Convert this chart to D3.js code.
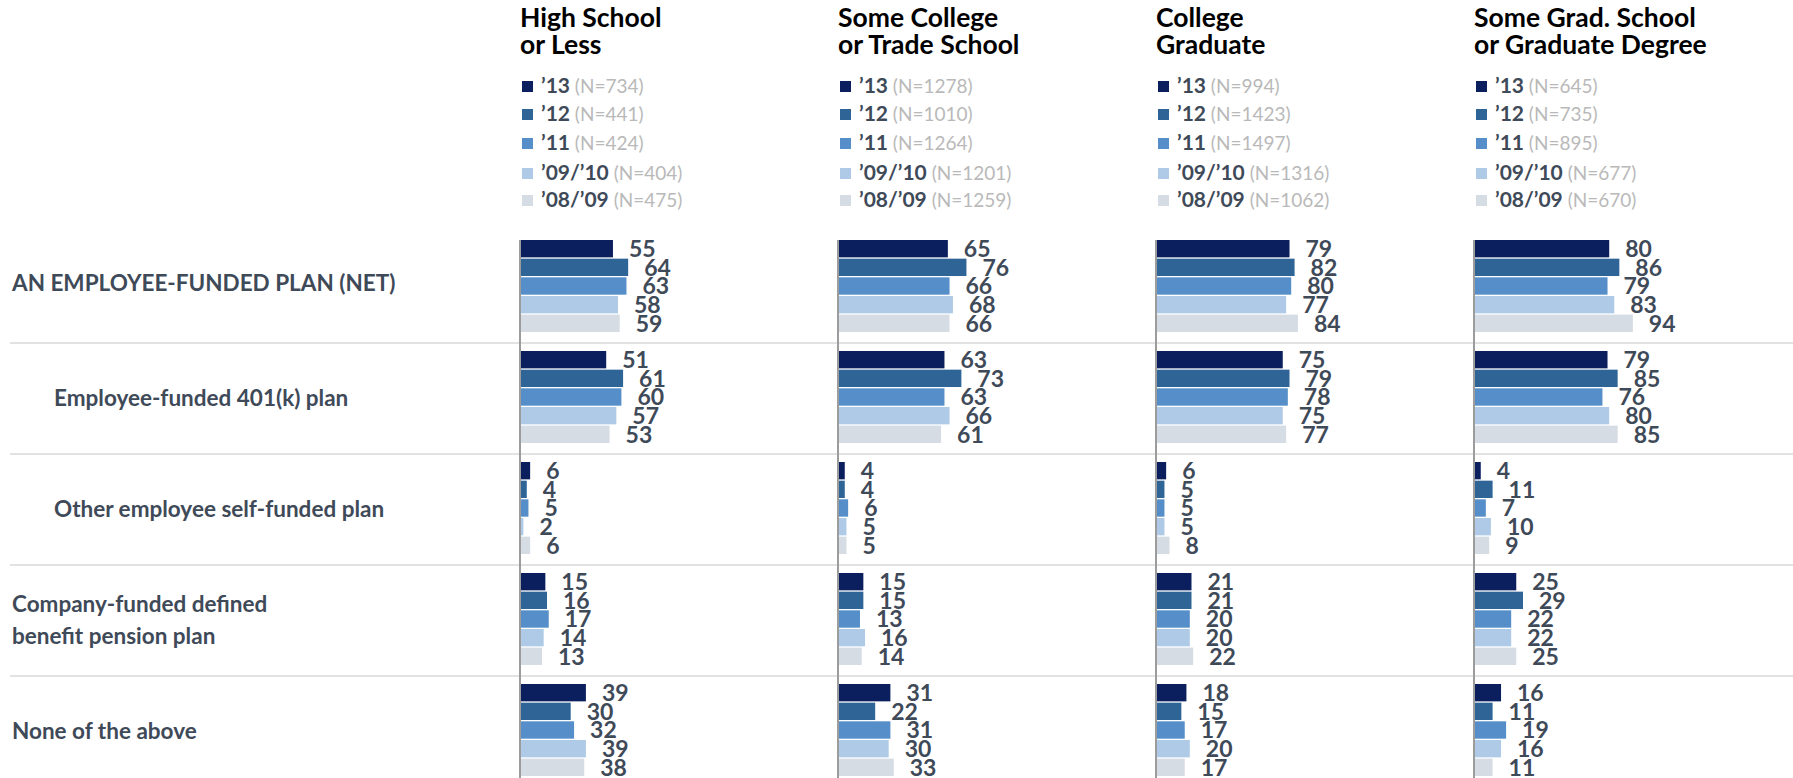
<!DOCTYPE html>
<html>
<head>
<meta charset="utf-8">
<script src="https://cdn.jsdelivr.net/npm/d3@7"></script>
<style>
  html, body { margin: 0; padding: 0; background: #fff; }
  svg { display: block; font-family: Lato, "Open Sans", sans-serif; }
</style>
</head>
<body>
<div class="container"></div>
<script>
// Panel headers (education level), one entry per panel.
const panelTitles = [
  ['High School', 'or Less'],
  ['Some College', 'or Trade School'],
  ['College', 'Graduate'],
  ['Some Grad. School', 'or Graduate Degree']
];

// Survey waves.
const series = ['’13', '’12', '’11', '’09/’10', '’08/’09'];

// Sample sizes per panel, in series order.
const sampleSizes = [
  [734, 441, 424, 404, 475],
  [1278, 1010, 1264, 1201, 1259],
  [994, 1423, 1497, 1316, 1062],
  [645, 735, 895, 677, 670]
];

// Row categories (lines of each label) and their level (1 = sub-item of the net).
const categories = [
  ['AN EMPLOYEE-FUNDED PLAN (NET)'],
  ['Employee-funded 401(k) plan'],
  ['Other employee self-funded plan'],
  ['Company-funded defined', 'benefit pension plan'],
  ['None of the above']
];
const categoryLevel = [0, 1, 1, 0, 0];

// Percentages: rows = categories, columns = series.
const highSchool = [
  [55, 64, 63, 58, 59],
  [51, 61, 60, 57, 53],
  [6, 4, 5, 2, 6],
  [15, 16, 17, 14, 13],
  [39, 30, 32, 39, 38]
];
const someCollege = [
  [65, 76, 66, 68, 66],
  [63, 73, 63, 66, 61],
  [4, 4, 6, 5, 5],
  [15, 15, 13, 16, 14],
  [31, 22, 31, 30, 33]
];
const collegeGrad = [
  [79, 82, 80, 77, 84],
  [75, 79, 78, 75, 77],
  [6, 5, 5, 5, 8],
  [21, 21, 20, 20, 22],
  [18, 15, 17, 20, 17]
];
const gradSchool = [
  [80, 86, 79, 83, 94],
  [79, 85, 76, 80, 85],
  [4, 11, 7, 10, 9],
  [25, 29, 22, 22, 25],
  [16, 11, 19, 16, 11]
];
const panelValues = [highSchool, someCollege, collegeGrad, gradSchool];

// Layout.
const width = 1793;
const height = 778;
const textDark = '#3f4a59';
const textLight = '#b9b9b9';
const colors = ['#0b1f5e', '#2f6496', '#558ec8', '#aecae6', '#d6dce3'];

const svg = d3.select('.container')
  .append('svg')
  .attr('width', width)
  .attr('height', height);

// Scales.
const panelX = d3.scaleBand()
  .domain(d3.range(panelTitles.length))
  .range([520, 520 + 318 * 4]);

const rowY = d3.scaleBand()
  .domain(d3.range(categories.length))
  .range([232, 232 + 111 * categories.length]);

const barY = d3.scaleBand()
  .domain(series)
  .range([8, 100])
  .paddingInner(0.07);

const x = d3.scaleLinear().domain([0, 100]).range([0, 169]);

const color = d3.scaleOrdinal().domain(series).range(colors);

// Row separators.
svg.append('g')
  .selectAll('line')
  .data(d3.range(1, categories.length))
  .join('line')
  .attr('x1', 10)
  .attr('x2', width)
  .attr('y1', d => rowY(d))
  .attr('y2', d => rowY(d))
  .attr('stroke', '#e2e2e2')
  .attr('stroke-width', 2);

// Category labels.
svg.append('g')
  .selectAll('text')
  .data(categories)
  .join('text')
  .attr('x', (d, i) => (categoryLevel[i] ? 54 : 12))
  .attr('y', (d, i) => rowY(i) + rowY.bandwidth() / 2 - (d.length - 1) * 16 - (i === 0 ? 4 : 0))
  .attr('dy', '0.35em')
  .attr('fill', textDark)
  .style('font-size', '22.5px')
  .style('font-weight', 700)
  .selectAll('tspan')
  .data(d => d)
  .join('tspan')
  .attr('x', function() { return this.parentNode.getAttribute('x'); })
  .attr('dy', (d, i) => (i ? '32px' : null))
  .text(d => d);

// Panels.
const panels = svg.append('g')
  .selectAll('g.panel')
  .data(panelValues)
  .join('g')
  .attr('class', 'panel')
  .attr('transform', (d, i) => `translate(${panelX(i)},0)`);

// Panel titles.
panels.append('text')
  .attr('y', 27)
  .attr('fill', '#000')
  .style('font-size', '26.5px')
  .style('font-weight', 700)
  .selectAll('tspan')
  .data((d, i) => panelTitles[i])
  .join('tspan')
  .attr('x', 0)
  .attr('dy', (d, i) => (i ? 27 : 0))
  .text(d => d);

// Legends.
const legendY = [86, 114, 143, 173, 200];
const legendItems = panels.append('g')
  .selectAll('g')
  .data((d, pi) => series.map((s, si) => ({ s, n: sampleSizes[pi][si], si })))
  .join('g')
  .attr('transform', d => `translate(2,${legendY[d.si]})`);

legendItems.append('rect')
  .attr('y', -5)
  .attr('width', 11)
  .attr('height', 11)
  .attr('fill', d => color(d.s));

const legendText = legendItems.append('text')
  .attr('x', 19)
  .attr('dy', '0.35em')
  .style('font-size', '21px');

legendText.append('tspan')
  .attr('fill', textDark)
  .style('font-weight', 700)
  .text(d => d.s);

legendText.append('tspan')
  .attr('fill', textLight)
  .style('font-size', '19px')
  .text(d => ` (N=${d.n})`);

// Bars.
const rows = panels.selectAll('g.row')
  .data(d => d)
  .join('g')
  .attr('class', 'row')
  .attr('transform', (d, i) => `translate(0,${rowY(i)})`);

const bars = rows.selectAll('g.bar')
  .data(d => d.map((v, i) => ({ v, s: series[i] })))
  .join('g')
  .attr('class', 'bar');

bars.append('rect')
  .attr('x', 0)
  .attr('y', d => barY(d.s))
  .attr('width', d => x(d.v))
  .attr('height', barY.bandwidth())
  .attr('fill', d => color(d.s));

bars.append('text')
  .attr('x', d => x(d.v) + 16)
  .attr('y', d => barY(d.s) + barY.bandwidth() / 2)
  .attr('dy', '0.36em')
  .attr('fill', textDark)
  .style('font-size', '23px')
  .style('font-weight', 700)
  .text(d => d.v);

// Vertical baseline of each panel.
panels.append('line')
  .attr('x1', 0)
  .attr('x2', 0)
  .attr('y1', rowY(0) + 8)
  .attr('y2', height)
  .attr('stroke', '#9c9c9c')
  .attr('stroke-width', 2);
</script>
</body>
</html>
